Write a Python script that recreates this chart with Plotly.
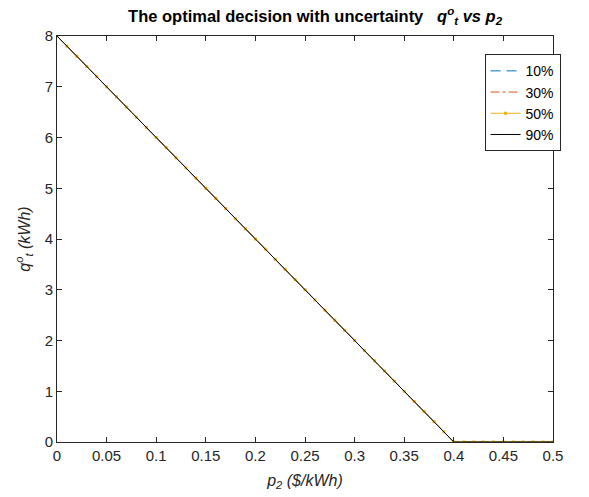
import plotly.graph_objects as go

# Price p2 ($/kWh) sampled every 0.01
p2 = [0.00, 0.01, 0.02, 0.03, 0.04, 0.05, 0.06, 0.07, 0.08, 0.09,
      0.10, 0.11, 0.12, 0.13, 0.14, 0.15, 0.16, 0.17, 0.18, 0.19,
      0.20, 0.21, 0.22, 0.23, 0.24, 0.25, 0.26, 0.27, 0.28, 0.29,
      0.30, 0.31, 0.32, 0.33, 0.34, 0.35, 0.36, 0.37, 0.38, 0.39,
      0.40, 0.41, 0.42, 0.43, 0.44, 0.45, 0.46, 0.47, 0.48, 0.49, 0.50]

# Optimal decision q_t^o (kWh) for each uncertainty level
q_10 = [8.0, 7.8, 7.6, 7.4, 7.2, 7.0, 6.8, 6.6, 6.4, 6.2,
        6.0, 5.8, 5.6, 5.4, 5.2, 5.0, 4.8, 4.6, 4.4, 4.2,
        4.0, 3.8, 3.6, 3.4, 3.2, 3.0, 2.8, 2.6, 2.4, 2.2,
        2.0, 1.8, 1.6, 1.4, 1.2, 1.0, 0.8, 0.6, 0.4, 0.2,
        0.0, 0.0, 0.0, 0.0, 0.0, 0.0, 0.0, 0.0, 0.0, 0.0, 0.0]
q_30 = list(q_10)
q_50 = list(q_10)
q_90 = list(q_10)

series_names = ["10%", "30%", "50%", "90%"]

FONT = "Liberation Sans, Arial, sans-serif"

fig = go.Figure()
fig.add_trace(go.Scatter(x=p2, y=q_10, name=series_names[0], mode="lines",
                         line=dict(color="#0072BD", width=1, dash="10px,6px")))
fig.add_trace(go.Scatter(x=p2, y=q_30, name=series_names[1], mode="lines",
                         line=dict(color="#D95319", width=1, dash="dashdot")))
fig.add_trace(go.Scatter(x=p2, y=q_50, name=series_names[2], mode="lines+markers",
                         line=dict(color="#EDB120", width=1),
                         marker=dict(color="#EDB120", size=3, symbol="square")))
fig.add_trace(go.Scatter(x=p2, y=q_90, name=series_names[3], mode="lines",
                         line=dict(color="#000000", width=1)))

axis_common = dict(
    showgrid=False, zeroline=False,
    showline=True, linecolor="#262626", linewidth=1, mirror="ticks",
    ticks="inside", ticklen=5, tickcolor="#262626", tickwidth=1,
    tickfont=dict(family=FONT, size=15, color="#262626"),
)

fig.update_layout(
    width=589, height=497,
    margin=dict(l=57, r=36, t=36, b=55),
    paper_bgcolor="white", plot_bgcolor="white",
    title=dict(
        text="<b>The optimal decision with uncertainty   <i>q<sup>o</sup><sub>t</sub> vs p<sub>2</sub></i></b>",
        x=0.535, xanchor="center", y=0.968, yanchor="middle",
        font=dict(family=FONT, size=16.5, color="black"),
    ),
    xaxis=dict(range=[0, 0.5], tickvals=[0, 0.05, 0.1, 0.15, 0.2, 0.25, 0.3, 0.35, 0.4, 0.45, 0.5],
               ticktext=["0", "0.05", "0.1", "0.15", "0.2", "0.25", "0.3", "0.35", "0.4", "0.45", "0.5"],
               title=dict(text="<i>p<sub>2</sub> ($/kWh)</i>", standoff=11,
                          font=dict(family=FONT, size=16, color="#262626")),
               **axis_common),
    yaxis=dict(range=[0, 8], dtick=1,
               title=dict(text="<i>q<sup>o</sup><sub>t</sub> (kWh)</i>", standoff=10,
                          font=dict(family=FONT, size=16, color="#262626")),
               **axis_common),
    legend=dict(x=0.862, y=0.955, xanchor="left", yanchor="top",
                bgcolor="white", bordercolor="#262626", borderwidth=1,
                font=dict(family=FONT, size=14, color="black"),
                tracegroupgap=0, itemwidth=30),
    showlegend=True,
)

fig.write_html("out.html")
